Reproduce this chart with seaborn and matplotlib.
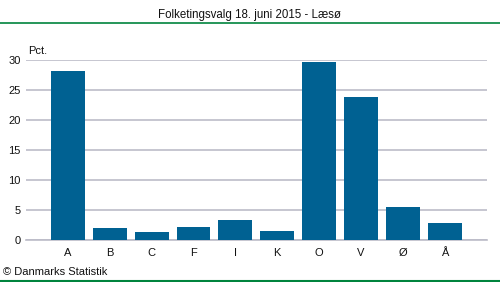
import matplotlib
matplotlib.use("Agg")
import matplotlib.pyplot as plt
import seaborn as sns
import pandas as pd
from matplotlib.lines import Line2D

parties = ["A", "B", "C", "F", "I", "K", "O", "V", "Ø", "Å"]
values = [28.1, 2.0, 1.3, 2.2, 3.3, 1.5, 29.6, 23.8, 5.5, 2.8]
yticks = [0, 5, 10, 15, 20, 25, 30]

sns.set_theme(style="white")
plt.rcParams['font.family'] = ['Liberation Sans', 'DejaVu Sans']

df = pd.DataFrame({"party": parties, "value": values})

W, H = 500, 282
fig = plt.figure(figsize=(W / 100, H / 100), dpi=100)
ax = fig.add_axes([26 / W, 1 - 240 / H, (486.7 - 26) / W, (240 - 59.5) / H])

sns.barplot(data=df, x="party", y="value", color="#006192", saturation=1,
            width=0.81, linewidth=0, ax=ax, zorder=3)

ax.set_xlim(-1.0, 10.0)
ax.set_ylim(0, 30)
ax.set_yticks(yticks)
ax.set_yticklabels([str(t) for t in yticks])
ax.grid(axis="y", color="#bcbcc8", linewidth=1.2, zorder=0)
ax.grid(axis="x", visible=False)
for s in ["left", "right", "top"]:
    ax.spines[s].set_visible(False)
ax.spines["bottom"].set_color("#bcbcc8")
ax.spines["bottom"].set_linewidth(1.2)
ax.tick_params(axis="both", length=0, labelsize=8, colors="#111111")
ax.tick_params(axis="y", pad=4)
ax.tick_params(axis="x", pad=6)
ax.set_xlabel("")
ax.set_ylabel("")

fig.text(28 / W, 1 - 51 / H, "Pct.", fontsize=8, ha="left", va="center", color="#111111")
fig.text(250 / W, 1 - 15 / H, "Folketingsvalg 18. juni 2015 - Læsø", fontsize=8.3,
         ha="center", va="center", color="#111111")
fig.text(3 / W, 1 - 272 / H, "© Danmarks Statistik", fontsize=8, ha="left",
         va="center", color="#111111")

fig.add_artist(Line2D([0, 1], [1 - 22.5 / H, 1 - 22.5 / H], color="#00843d",
                      linewidth=1.2, transform=fig.transFigure))
fig.add_artist(Line2D([0, 1], [1 - 281 / H, 1 - 281 / H], color="#00843d",
                      linewidth=1.5, transform=fig.transFigure))

fig.savefig("out.png", dpi=100)
